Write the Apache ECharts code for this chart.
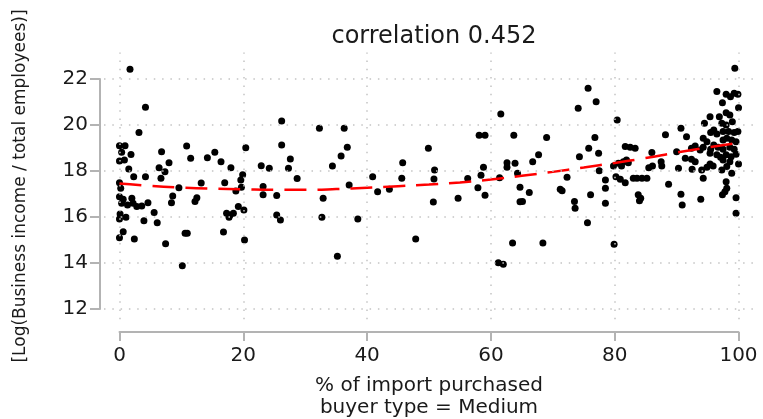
<!DOCTYPE html>
<html>
<head>
<meta charset="utf-8">
<script src="https://cdn.jsdelivr.net/npm/echarts@6/dist/echarts.min.js"></script>
<style>html,body{margin:0;padding:0;background:#fff}#c{width:763px;height:419px}</style>
</head>
<body>
<div id="c"></div>
<script>
// ---------- data ----------
const titleText = 'correlation 0.452';
const xTitle = '% of import purchased\nbuyer type = Medium';
const yTitle = '[Log(Business income / total employees)]';
const xTicks = [0, 20, 40, 60, 80, 100];
const yTicks = [12, 14, 16, 18, 20, 22];

const importPct = [
1.7,4.2,3.15,0,0.9,0.35,1.86,0,0.8,1.5,2.3,4.2,6.8,6.4,7.35,6.7,8.0,10.85,11.5,14.2,15.4,16.4,18.0,20.4,19.9,19.6,18.8,19.7,13.2,9.6,8.6,8.4,12.5,12.2,17.0,22.9,24.2,26.2,26.2,27.6,27.3,28.7,23.2,23.2,25.4,19.2,
0,0.2,0,0.6,1.3,2.0,2.2,2.8,3.6,4.6,
0.35,20.1,0.1,1.05,0,3.95,5.6,6.1,0.6,0,2.4,7.45,10.6,10.95,10.15,16.8,17.3,17.85,18.4,17.7,20.2,25.4,26.0,
32.3,36.3,36.8,35.8,34.4,37.1,32.9,40.9,41.7,43.6,45.75,45.6,49.9,50.9,50.8,50.7,54.7,56.25,57.9,59.05,58.4,58.8,58.1,59.05,61.6,63.7,62.6,62.6,63.9,61.4,64.3,64.7,
32.7,38.5,35.2,47.85,61.2,62.0,63.5,64.7,
99.4,75.7,77.0,74.1,80.4,96.5,98.0,99.3,99.9,98.7,97.4,100,96.9,98.0,98.6,95.4,94.5,97.3,98.0,99.0,96.0,95.5,96.5,97.5,98.4,99.3,99.9,94.3,94.9,97.5,98.1,98.9,99.6,96.0,96.7,95.5,97.5,98.6,99.3,96.5,97.1,98.0,98.8,99.6,95.4,93.8,94.3,92.4,93.0,91.6,90.7,88.2,92.4,93.0,91.4,90.0,95.4,95.9,94.9,97.5,98.6,98.1,100,94.05,92.5,90.3,97.3,94.3,98.9,98.0,98.1,97.8,97.4,99.6,93.9,90.7,90.9,88.7,87.5,87.6,86.0,85.5,86.1,85.2,84.4,83.6,83.0,83.8,84.2,84.0,81.7,82.5,83.3,81.9,82.2,81.4,80.6,81.1,79.8,80.2,80.9,81.7,78.5,78.5,78.5,77.5,77.4,76.8,75.8,74.3,76.1,73.5,73.6,71.2,71.5,72.3,69.0,67.7,66.75,66.2,65.1,
75.6,68.4,79.9,99.6
];
const logIncome = [
22.42,20.77,19.67,19.10,19.10,18.81,18.71,18.43,18.48,18.09,17.75,17.75,18.84,18.14,17.97,17.68,18.36,19.09,18.55,18.57,18.81,18.40,18.14,19.01,17.83,17.61,17.13,17.29,17.48,17.27,16.91,16.62,16.84,16.67,17.49,18.23,18.12,20.17,19.13,18.52,18.12,17.67,17.32,16.96,16.93,16.45,
17.49,17.25,16.88,16.77,16.52,16.81,16.60,16.45,16.48,16.62,
16.60,16.30,16.13,15.99,15.91,15.84,16.19,15.75,15.36,15.10,15.04,14.83,15.29,15.29,13.88,15.35,16.16,16.09,16.16,15.99,15.00,16.09,15.87,
19.86,19.86,19.03,18.65,18.22,17.39,16.81,17.75,17.10,17.20,18.36,17.68,18.99,18.04,17.65,16.65,16.81,17.67,17.27,16.94,17.81,18.16,19.55,19.55,20.48,19.55,18.36,18.16,18.33,17.70,17.90,17.29,
15.99,15.91,14.29,15.04,14.01,13.94,14.87,16.66,
22.47,21.60,21.01,20.73,20.22,21.45,21.33,21.38,21.33,21.23,20.97,20.75,20.36,20.53,20.43,20.36,20.07,20.07,20.00,20.14,19.78,19.67,19.61,19.71,19.71,19.67,19.71,19.42,19.27,19.35,19.42,19.35,19.27,19.13,19.03,18.94,18.94,19.03,18.94,18.70,18.60,18.70,18.62,18.73,18.77,18.91,19.03,18.99,19.09,19.49,19.86,19.57,18.51,18.40,18.55,18.84,18.30,18.22,18.16,18.48,18.40,18.19,18.30,18.04,18.07,18.12,18.04,17.68,17.90,17.53,17.25,17.10,16.96,16.84,16.77,16.99,16.52,17.42,18.40,18.22,18.80,18.14,18.22,17.68,17.68,17.68,17.68,16.96,16.81,16.70,19.06,19.03,18.99,18.48,18.36,18.40,18.33,18.22,18.22,17.75,17.64,17.49,17.61,17.25,16.60,18.01,18.77,19.45,18.99,18.62,16.96,16.67,16.38,17.20,17.14,17.73,19.45,18.70,18.40,17.06,16.67,
15.75,14.87,14.81,16.16
];

const fitX = [0,5,10,15,20,25,30,35,40,45,50,55,60,65,70,75,80,85,90,95,100];
const fitY = [17.45,17.35,17.28,17.23,17.20,17.18,17.18,17.21,17.27,17.34,17.41,17.50,17.63,17.79,17.96,18.15,18.35,18.56,18.80,19.02,19.22];

// ---------- chart ----------
const FONT = 'DejaVu Sans';
const AX = '#b3b3b3';
const TXT = '#1a1a1a';
const points = importPct.map((x, i) => [x, logIncome[i]]);
const fit = fitX.map((x, i) => [x, fitY[i]]);

const gridLines = xTicks.map(v => ({xAxis: v})).concat(yTicks.map(v => ({yAxis: v})));

const chart = echarts.init(document.getElementById('c'), null, {renderer: 'canvas'});
chart.setOption({
  animation: false,
  backgroundColor: '#ffffff',
  title: {
    text: titleText, left: 429, top: 20, textAlign: 'center',
    textStyle: {fontFamily: FONT, fontSize: 24, fontWeight: 'normal', color: TXT}
  },
  grid: [
    {left: 104, top: 52.5, width: 650, height: 266.8},
    {left: 119.5, top: 79, width: 619, height: 230}
  ],
  xAxis: [
    {gridIndex: 0, type: 'value', min: -2.5, max: 102.5, show: false},
    {gridIndex: 1, type: 'value', min: 0, max: 100, interval: 20, offset: 23,
     axisLine: {show: true, onZero: false, lineStyle: {color: AX, width: 2}},
     axisTick: {show: true, length: 9, lineStyle: {color: AX, width: 2}},
     axisLabel: {fontFamily: FONT, fontSize: 20, color: TXT, margin: 14},
     splitLine: {show: false}}
  ],
  yAxis: [
    {gridIndex: 0, type: 'value', min: 11.55, max: 23.15, show: false},
    {gridIndex: 1, type: 'value', min: 12, max: 22, interval: 2, offset: 19.5,
     axisLine: {show: true, onZero: false, lineStyle: {color: AX, width: 2}},
     axisTick: {show: true, length: 10, lineStyle: {color: AX, width: 2}},
     axisLabel: {fontFamily: FONT, fontSize: 20, color: TXT, margin: 12},
     splitLine: {show: false}}
  ],
  graphic: [
    {type: 'text', x: 429, y: 397, z: 10,
     style: {text: xTitle, fontFamily: FONT, fontSize: 20, lineHeight: 22, fill: TXT, align: 'center', verticalAlign: 'middle'}},
    {type: 'text', x: 21, y: 186, rotation: Math.PI / 2, z: 10,
     style: {text: yTitle, fontFamily: FONT, fontSize: 17, fill: TXT, align: 'center', verticalAlign: 'middle'}}
  ],
  series: [
    {type: 'line', xAxisIndex: 0, yAxisIndex: 0, data: [], z: 1, silent: true,
     markLine: {silent: true, symbol: ['none', 'none'], label: {show: false},
       lineStyle: {color: '#c4c4c4', width: 1.5, type: [1.5, 6.8]},
       emphasis: {disabled: true},
       data: gridLines}},
    {type: 'scatter', xAxisIndex: 0, yAxisIndex: 0, data: points, z: 3,
     symbol: 'circle', symbolSize: 7, itemStyle: {color: '#000000', opacity: 1}},
    {type: 'line', xAxisIndex: 0, yAxisIndex: 0, data: fit, z: 4, smooth: true,
     showSymbol: false, lineStyle: {color: '#ff0000', width: 2.5, type: [22, 11]}}
  ]
});
</script>
</body>
</html>
